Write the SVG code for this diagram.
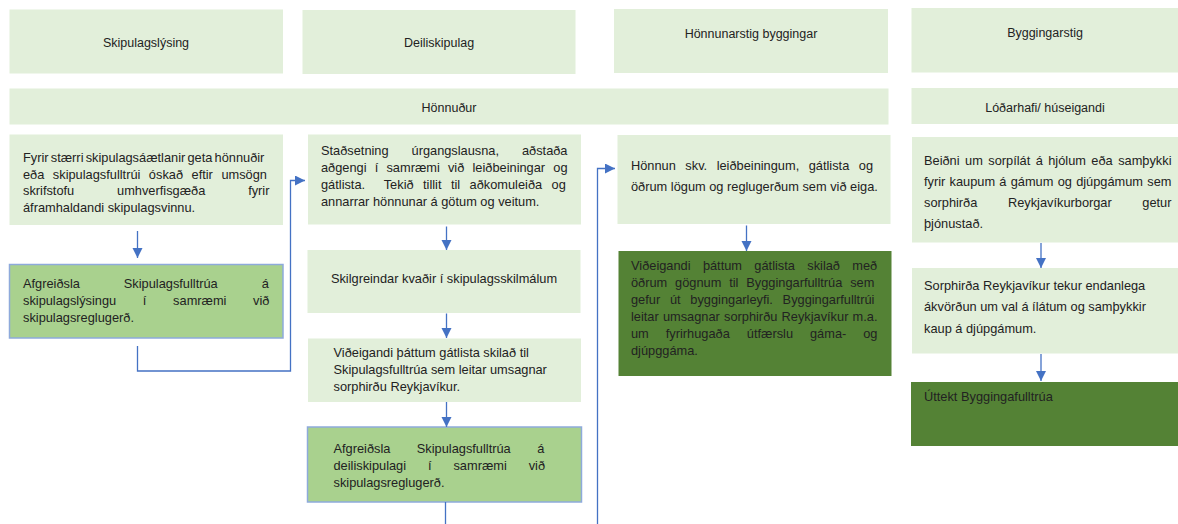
<svg xmlns="http://www.w3.org/2000/svg" width="1178" height="524" viewBox="0 0 1178 524">
<style>
.lg{fill:#e2efda}
.mg{fill:#a9d18e;stroke:#8eaadb;stroke-width:1.5}
.dg{fill:#548235}
.t{font-family:"Liberation Sans",Arial,sans-serif;font-size:12.8px;fill:#222}
.h{font-family:"Liberation Sans",Arial,sans-serif;font-size:12.5px;fill:#222;text-anchor:middle}
.c{fill:none;stroke:#4472c4;stroke-width:1.3}
</style>
<defs>
<marker id="ah" markerUnits="userSpaceOnUse" markerWidth="11" markerHeight="11" refX="10" refY="5" orient="auto">
<path d="M0,0 L10,5 L0,10 z" fill="#4472c4"/>
</marker>
</defs>
<rect width="1178" height="524" fill="#fff"/>

<g id="h1"><rect class="lg" x="9.5" y="9.5" width="273.5" height="64"/><text class="h" x="146" y="46.5">Skipulagslýsing</text></g>
<g id="h2"><rect class="lg" x="302.5" y="10" width="273" height="64"/><text class="h" x="439" y="46.5">Deiliskipulag</text></g>
<g id="h3"><rect class="lg" x="614" y="9" width="274" height="64"/><text class="h" x="751" y="37.5">Hönnunarstig byggingar</text></g>
<g id="h4"><rect class="lg" x="911.5" y="8" width="266.5" height="64.5"/><text class="h" x="1045" y="36.5">Byggingarstig</text></g>
<g id="bar1"><rect class="lg" x="9.5" y="88.5" width="879" height="36"/><text class="h" x="449" y="111.5">Hönnuður</text></g>
<g id="bar2"><rect class="lg" x="911.5" y="88" width="266.5" height="36"/><text class="h" x="1045" y="111.5">Lóðarhafi/ húseigandi</text></g>

<g id="a1"><rect class="lg" x="9.5" y="134.5" width="273.5" height="90.5"/>
<text class="t" x="23" y="162" word-spacing="-1.36">Fyrir stærri skipulagsáætlanir geta hönnuðir</text>
<text class="t" x="23" y="178.5" word-spacing="4.96">eða skipulagsfulltrúi óskað eftir umsögn</text>
<text class="t" x="23" y="195" word-spacing="39.32">skrifstofu umhverfisgæða fyrir</text>
<text class="t" x="23" y="211.5">áframhaldandi skipulagsvinnu.</text>
</g>
<g id="a2"><rect class="mg" x="9.5" y="264.5" width="273.5" height="73.5"/>
<text class="t" x="23" y="288" word-spacing="40.37">Afgreiðsla Skipulagsfulltrúa á</text>
<text class="t" x="23" y="305" word-spacing="23.13">skipulagslýsingu í samræmi við</text>
<text class="t" x="23" y="321.5">skipulagsreglugerð.</text>
</g>

<g id="b1"><rect class="lg" x="308" y="134.5" width="273" height="90"/>
<text class="t" x="321" y="154.5" word-spacing="19.37">Staðsetning úrgangslausna, aðstaða</text>
<text class="t" x="321" y="171.5" word-spacing="4.63">aðgengi í samræmi við leiðbeiningar og</text>
<text class="t" x="321" y="188.5" word-spacing="5.87" xml:space="preserve">gátlista.  Tekið tillit til aðkomuleiða og</text>
<text class="t" x="321" y="205.5">annarrar hönnunar á götum og veitum.</text>
</g>
<g id="b2"><rect class="lg" x="307.5" y="250" width="273" height="63"/>
<text class="t" x="444" y="282.5" text-anchor="middle">Skilgreindar kvaðir í skipulagsskilmálum</text>
</g>
<g id="b3"><rect class="lg" x="308" y="338.5" width="273" height="63.5"/>
<text class="t" x="333.5" y="357">Viðeigandi þáttum gátlista skilað til</text>
<text class="t" x="333.5" y="374">Skipulagsfulltrúa sem leitar umsagnar</text>
<text class="t" x="333.5" y="391">sorphirðu Reykjavíkur.</text>
</g>
<g id="b4"><rect class="mg" x="307.5" y="427" width="274" height="75"/>
<text class="t" x="333.5" y="453" word-spacing="22.87">Afgreiðsla Skipulagsfulltrúa á</text>
<text class="t" x="333.5" y="470" word-spacing="18.37">deiliskipulagi í samræmi við</text>
<text class="t" x="333.5" y="487">skipulagsreglugerð.</text>
</g>

<g id="c1"><rect class="lg" x="617.5" y="135" width="273" height="89"/>
<text class="t" x="631" y="170" word-spacing="5.96">Hönnun skv. leiðbeiningum, gátlista og</text>
<text class="t" x="631" y="191">öðrum lögum og reglugerðum sem við eiga.</text>
</g>
<g id="c2"><rect class="dg" x="618.5" y="251" width="273" height="125"/>
<text class="t" x="631" y="270" word-spacing="8.8">Viðeigandi þáttum gátlista skilað með</text>
<text class="t" x="631" y="287" word-spacing="4.29">öðrum gögnum til Byggingarfulltrúa sem</text>
<text class="t" x="631" y="304" word-spacing="6.19">gefur út byggingarleyfi. Byggingarfulltrúi</text>
<text class="t" x="631" y="321" word-spacing="0.63">leitar umsagnar sorphirðu Reykjavíkur m.a.</text>
<text class="t" x="631" y="338" word-spacing="13.43">um fyrirhugaða útfærslu gáma- og</text>
<text class="t" x="631" y="355">djúpggáma.</text>
</g>

<g id="d1"><rect class="lg" x="912" y="137" width="266" height="105.5"/>
<text class="t" x="924" y="164.5" word-spacing="1.89">Beiðni um sorpílát á hjólum eða samþykki</text>
<text class="t" x="924" y="185.5" word-spacing="0.7">fyrir kaupum á gámum og djúpgámum sem</text>
<text class="t" x="924" y="206.5" word-spacing="27.01">sorphirða Reykjavíkurborgar getur</text>
<text class="t" x="924" y="227.5">þjónustað.</text>
</g>
<g id="d2"><rect class="lg" x="912" y="268" width="266" height="85.5"/>
<text class="t" x="924" y="290">Sorphirða Reykjavíkur tekur endanlega</text>
<text class="t" x="924" y="311">ákvörðun um val á ílátum og samþykkir</text>
<text class="t" x="924" y="332.5">kaup á djúpgámum.</text>
</g>
<g id="d3"><rect class="dg" x="911" y="382" width="267" height="64"/>
<text class="t" x="924" y="400.5">Úttekt Byggingafulltrúa</text>
</g>

<g id="connectors">
<path class="c" d="M137.5,231 V258" marker-end="url(#ah)"/>
<path class="c" d="M137.5,346 V371 H290.5 V180.5 H305" marker-end="url(#ah)"/>
<path class="c" d="M446.5,226.5 V250" marker-end="url(#ah)"/>
<path class="c" d="M446.5,313.5 V338" marker-end="url(#ah)"/>
<path class="c" d="M446.5,402 V427" marker-end="url(#ah)"/>
<path class="c" d="M445.5,502 V524"/>
<path class="c" d="M597.5,524 V168.5 H615" marker-end="url(#ah)"/>
<path class="c" d="M746.5,225.5 V251" marker-end="url(#ah)"/>
<path class="c" d="M1041,243 V268" marker-end="url(#ah)"/>
<path class="c" d="M1041,354 V381" marker-end="url(#ah)"/>
</g>
</svg>
